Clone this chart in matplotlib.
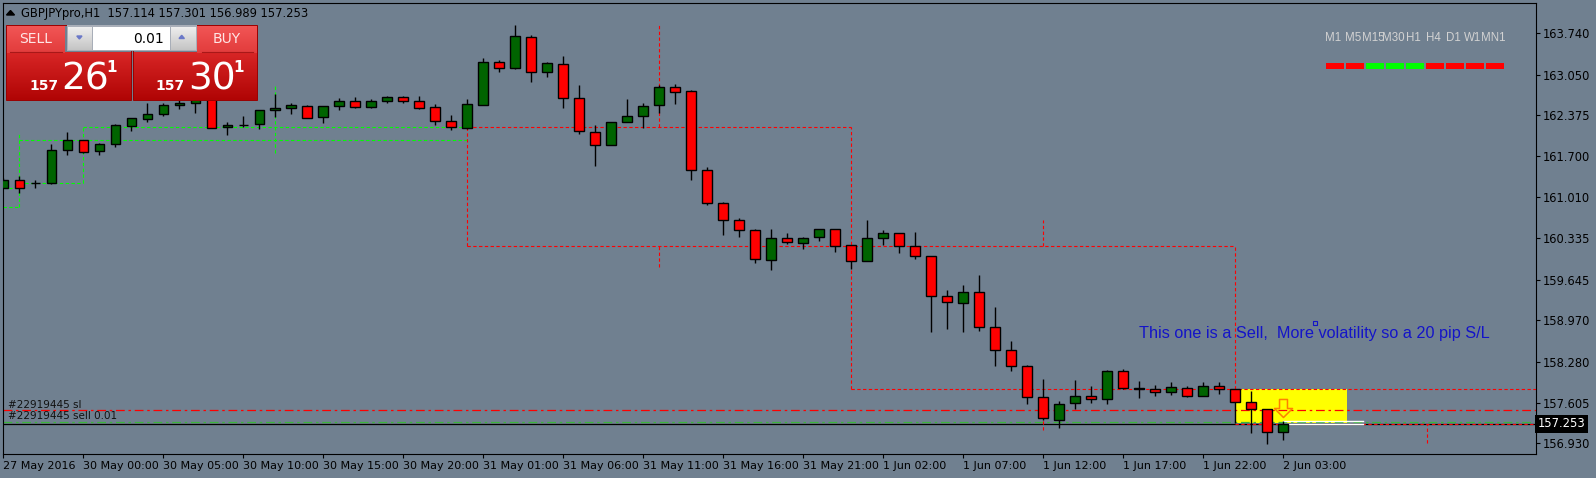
import numpy as np
import matplotlib.pyplot as plt
import matplotlib.colors as mcolors
import matplotlib.transforms as mtransforms
from matplotlib.patches import Rectangle, Polygon
from matplotlib.path import Path

# GBPJPY H1 bars, 27 May 2016 19:00 .. 2 Jun 2016 03:00
opens = [161.172, 161.300, 161.250, 161.255, 161.793, 161.959, 161.777, 161.893, 162.201, 162.318,
         162.391, 162.540, 162.578, 162.640, 162.175, 162.218, 162.225, 162.457, 162.490, 162.523,
         162.351, 162.523, 162.606, 162.507, 162.606, 162.673, 162.606, 162.507, 162.274, 162.168,
         162.550, 163.254, 163.154, 163.669, 163.088, 163.220, 162.656, 162.092, 161.876, 162.258,
         162.357, 162.540, 162.839, 162.772, 161.461, 160.913, 160.631, 160.465, 159.967, 160.333,
         160.250, 160.349, 160.482, 160.216, 159.951, 160.333, 160.416, 160.200, 160.034, 159.380,
         159.254, 159.436, 158.855, 158.474, 158.208, 157.694, 157.322, 157.594, 157.710, 157.660,
         158.125, 157.836, 157.826, 157.777, 157.843, 157.720, 157.876, 157.826, 157.611, 157.494,
         157.114]
highs = [161.328, 161.367, 161.300, 161.898, 162.097, 161.964, 161.919, 162.230, 162.324, 162.583,
         162.573, 162.620, 162.680, 162.660, 162.263, 162.362, 162.457, 162.728, 162.583, 162.545,
         162.523, 162.661, 162.678, 162.645, 162.694, 162.694, 162.694, 162.567, 162.379, 162.645,
         163.320, 163.287, 163.873, 163.707, 163.254, 163.358, 162.877, 162.213, 162.258, 162.645,
         162.578, 162.877, 162.894, 162.789, 161.511, 160.930, 160.664, 160.482, 160.482, 160.416,
         160.349, 160.482, 160.482, 160.216, 160.636, 160.465, 160.416, 160.432, 160.034, 159.474,
         159.557, 159.723, 159.192, 158.628, 158.230, 157.997, 157.632, 157.981, 157.881, 158.142,
         158.163, 157.964, 157.893, 157.948, 157.881, 157.948, 157.948, 157.826, 157.798, 157.494,
         157.301]
lows = [161.167, 161.079, 161.172, 161.239, 161.720, 161.743, 161.720, 161.853, 162.118, 162.263,
        162.367, 162.484, 162.417, 162.155, 162.052, 162.185, 162.152, 162.351, 162.391, 162.324,
        162.251, 162.462, 162.500, 162.500, 162.583, 162.583, 162.479, 162.218, 162.125, 162.147,
        162.550, 163.098, 163.138, 162.932, 163.015, 162.500, 162.069, 161.538, 161.876, 162.258,
        162.168, 162.417, 162.567, 161.305, 160.885, 160.392, 160.359, 159.928, 159.811, 160.243,
        160.160, 160.293, 160.110, 159.823, 159.951, 160.216, 160.094, 159.994, 158.782, 158.832,
        158.782, 158.799, 158.218, 158.135, 157.587, 157.317, 157.189, 157.504, 157.604, 157.587,
        157.826, 157.687, 157.720, 157.737, 157.694, 157.720, 157.743, 157.262, 157.106, 156.923,
        156.989]
closes = [161.300, 161.162, 161.255, 161.798, 161.964, 161.760, 161.898, 162.208, 162.324, 162.396,
          162.545, 162.578, 162.640, 162.168, 162.208, 162.220, 162.457, 162.490, 162.540, 162.334,
          162.523, 162.606, 162.507, 162.606, 162.673, 162.606, 162.500, 162.274, 162.175, 162.557,
          163.254, 163.154, 163.685, 163.088, 163.237, 162.656, 162.108, 161.876, 162.258, 162.357,
          162.523, 162.839, 162.756, 161.461, 160.913, 160.631, 160.465, 159.984, 160.333, 160.266,
          160.333, 160.482, 160.200, 159.951, 160.333, 160.416, 160.200, 160.034, 159.380, 159.270,
          159.436, 158.855, 158.474, 158.208, 157.694, 157.345, 157.577, 157.710, 157.660, 158.125,
          157.843, 157.840, 157.777, 157.860, 157.720, 157.876, 157.826, 157.611, 157.494, 157.123,
          157.253]

# time axis labels (every 5 bars)
time_labels = ["27 May 2016", "30 May 00:00", "30 May 05:00", "30 May 10:00", "30 May 15:00",
               "30 May 20:00", "31 May 01:00", "31 May 06:00", "31 May 11:00", "31 May 16:00",
               "31 May 21:00", "1 Jun 02:00", "1 Jun 07:00", "1 Jun 12:00", "1 Jun 17:00",
               "1 Jun 22:00", "2 Jun 03:00"]
price_ticks = [163.740, 163.050, 162.375, 161.700, 161.010, 160.335, 159.645,
               158.970, 158.280, 157.605, 156.930]

# previous-day range levels (bar from, bar to, price) and markers (bar, price lo, price hi)
green_h = [(0, 1, 160.857), (0, 1, 161.162), (1, 5, 161.245), (1, 29, 161.959), (5, 29, 162.175)]
green_v = [(1, 160.857, 162.102), (5, 161.245, 162.175), (17, 161.743, 162.877)]
red_h = [(29, 53, 162.175), (29, 77, 160.210), (53, 96, 157.826), (77, 96, 157.253)]
red_v = [(29, 160.210, 162.175), (41, 162.175, 163.873), (41, 159.860, 160.210),
         (53, 157.826, 162.175), (65, 160.210, 160.636), (65, 157.150, 157.340),
         (77, 157.826, 160.210), (89, 156.940, 157.253)]

# order
sl_price = 157.483
open_price = 157.290
bid = closes[-1]
zone = (77, 84, 157.263, 157.826)
comment = "This one is a Sell,  More volatility so a 20 pip S/L"

tf_labels = ["M1", "M5", "M15", "M30", "H1", "H4", "D1", "W1", "MN1"]
tf_up = [False, False, True, True, True, False, False, False, False]

W, H = 1596, 478
BG = "#708090"

fig = plt.figure(figsize=(W / 100, H / 100), dpi=100, facecolor=BG)
ax = fig.add_axes([3 / W, (H - 454) / H, 1533 / W, 451 / H], facecolor=BG)
ax.set_xlim(-0.02, 95.8)
ax.set_ylim(156.752, 164.238)

# levels
for x0, x1, p in green_h:
    ax.plot([x0, x1], [p, p], color="#00ff00", lw=0.8, ls=(0, (3, 2.2)), zorder=1)
for x, p0, p1 in green_v:
    ax.plot([x, x], [p0, p1], color="#00ff00", lw=0.8, ls=(0, (3, 2.2)), zorder=1)

# zone + order lines
ax.add_patch(Rectangle((zone[0], zone[2]), zone[1] - zone[0], zone[3] - zone[2],
                       facecolor="#ffff00", edgecolor="none", zorder=0.5))
ax.axhline(bid, color="black", lw=0.9, zorder=1.2)
ax.axhline(sl_price, color="#ff0000", lw=0.9, ls=(0, (7, 3, 2, 3)), zorder=1.3)
ax.axhline(open_price, color="#3cb43c", lw=0.9, ls=(0, (7, 3, 2, 3)), zorder=1.3)
for x0, x1, p in red_h:
    ax.plot([x0, x1], [p, p], color="#ff0000", lw=0.8, ls=(0, (3, 2.2)), zorder=1.4)
for x, p0, p1 in red_v:
    ax.plot([x, x], [p0, p1], color="#ff0000", lw=0.8, ls=(0, (3, 2.2)), zorder=1.4)
ax.plot([80, 85], [highs[-1], highs[-1]], color="white", lw=1, zorder=1.5)
ax.plot([80, 85], [bid, bid], color="white", lw=1, zorder=1.5)

# candles
o = np.array(opens)
c = np.array(closes)
idx = np.arange(len(o))
cols = np.where(c > o, "#006400", "#ff0000")
ax.vlines(idx, lows, highs, color="black", lw=1, zorder=3)
ax.bar(idx, c - o, bottom=o, width=0.6, color=cols, edgecolor="black", linewidth=1, zorder=4)

# sell arrow (hollow down arrow)
arrow = Path([(-0.22, 0.5), (0.22, 0.5), (0.22, 0.0), (0.5, 0.0), (0.0, -0.5),
              (-0.5, 0.0), (-0.22, 0.0), (-0.22, 0.5)],
             [Path.MOVETO] + [Path.LINETO] * 6 + [Path.CLOSEPOLY])
ax.plot([80], [157.51], marker=arrow, ms=13, mfc="none", mec="#ff8000", mew=1.1, zorder=5)

ax.text(71.0, 158.756, comment, color="#1414c8", fontsize=11.7, family="Liberation Sans",
        ha="left", va="center", zorder=5)
ax.plot([82], [158.922], marker="s", ms=2.5, mfc="none", mec="#1414c8", mew=0.8, zorder=5)

bl = mtransforms.blended_transform_factory(ax.transAxes, ax.transData)
ax.text(0.0033, sl_price + 0.005, "#22919445 sl", transform=bl, fontsize=7.5,
        color="#111111", ha="left", va="bottom")
ax.text(0.0033, open_price + 0.005, "#22919445 sell 0.01", transform=bl, fontsize=7.5,
        color="#111111", ha="left", va="bottom")
ax.text(1.001, bid, f"{bid:.3f}", transform=bl, fontsize=8.3, color="white", ha="left",
        va="center", bbox=dict(boxstyle="square,pad=0.2", fc="black", ec="none"), zorder=6)

# axes styling
for s in ax.spines.values():
    s.set_color("black")
    s.set_linewidth(0.8)
ax.yaxis.tick_right()
ax.set_yticks(price_ticks)
ax.set_yticklabels([f"{p:.3f}" for p in price_ticks])
ax.set_xticks(np.arange(0, 81, 5))
ax.set_xticklabels(time_labels, ha="left")
ax.tick_params(axis="y", direction="out", length=3, width=0.8, labelsize=8.3, pad=2, colors="black")
ax.tick_params(axis="x", direction="out", length=3, width=0.8, labelsize=8, pad=2, colors="black")

# ui overlay (pixel coordinates)
ui = fig.add_axes([0, 0, 1, 1])
ui.patch.set_alpha(0)
ui.axis("off")


def grad(x0, y0, x1, y1, ctop, cbot, z=2):
    t = np.linspace(0, 1, 64)[:, None, None]
    img = np.array(mcolors.to_rgb(ctop)) * (1 - t) + np.array(mcolors.to_rgb(cbot)) * t
    ui.imshow(img, extent=(x0, x1, y1, y0), aspect="auto", interpolation="bilinear", zorder=z)


# header
ui.add_patch(Polygon([(6.5, 15), (14.5, 15), (10.5, 10.5)], closed=True, color="black"))
ui.text(20.7, 13, f"GBPJPYpro,H1  {opens[-1]:.3f} {highs[-1]:.3f} {lows[-1]:.3f} {closes[-1]:.3f}",
        fontsize=8.3, color="black", ha="left", va="center")

# one-click trading panel
grad(6, 52, 130.7, 100, "#d82626", "#b00404")
grad(133, 52, 256.7, 100, "#d82626", "#b00404")
grad(6, 25, 65, 52.5, "#f25656", "#e23c3c")
grad(197.3, 25, 256.7, 52.5, "#f25656", "#e23c3c")
ui.add_patch(Rectangle((6, 25), 124.7, 75, fill=False, ec="#9a0000", lw=0.7, zorder=3))
ui.add_patch(Rectangle((133, 25), 123.7, 75, fill=False, ec="#9a0000", lw=0.7, zorder=3))
ui.plot([10, 61.7], [51.7, 51.7], color="#a81818", lw=0.8, zorder=3)
ui.plot([201.7, 253], [51.7, 51.7], color="#a81818", lw=0.8, zorder=3)
ui.add_patch(Rectangle((66.5, 25), 130.8, 26, fc="#a8aeb8", ec="none", zorder=3))
grad(68.3, 27, 92.3, 49.5, "#eeeeee", "#c4c4c4", z=4)
grad(171, 27, 195.3, 49.5, "#eeeeee", "#c4c4c4", z=4)
ui.add_patch(Rectangle((93, 27), 77.3, 22.5, fc="white", ec="none", zorder=4))
ui.add_patch(Polygon([(76.8, 36), (82, 36), (79.4, 39)], closed=True, color="#6a78c8", zorder=5))
ui.add_patch(Polygon([(179, 38.5), (184.4, 38.5), (181.7, 35.3)], closed=True, color="#6a78c8", zorder=5))
ui.text(164.3, 38.5, "0.01", fontsize=10, color="black", ha="right", va="center", zorder=5)
ui.text(35.5, 39, "SELL", fontsize=10, color="#ffe6e6", ha="center", va="center", zorder=5)
ui.text(227, 39, "BUY", fontsize=10, color="#ffe6e6", ha="center", va="center", zorder=5)
for x_big, x_small, x_sup, big in [(61, 29.5, 106, "26"), (188.5, 155.5, 233, "30")]:
    ui.text(x_small, 89.5, "157", fontsize=10, fontweight="bold", color="white",
            ha="left", va="baseline", zorder=5)
    ui.text(x_big, 89.5, big, fontsize=27, color="white", ha="left", va="baseline", zorder=5)
    ui.text(x_sup, 71.5, "1", fontsize=11, fontweight="bold", color="white",
            ha="left", va="baseline", zorder=5)

# timeframe trend widget
for i, (lab, up) in enumerate(zip(tf_labels, tf_up)):
    x = 1326 + 20 * i
    ui.add_patch(Rectangle((x, 63.3), 18, 5.7, fc="#00ff00" if up else "#ff0000", ec="none", zorder=3))
    ui.text(x + 7, 38, lab, fontsize=8.3, color="#d2d2d2", family="Liberation Sans",
            ha="center", va="center", zorder=3)

ui.set_xlim(0, W)
ui.set_ylim(H, 0)

fig.savefig("out.png", dpi=100, facecolor=BG)
